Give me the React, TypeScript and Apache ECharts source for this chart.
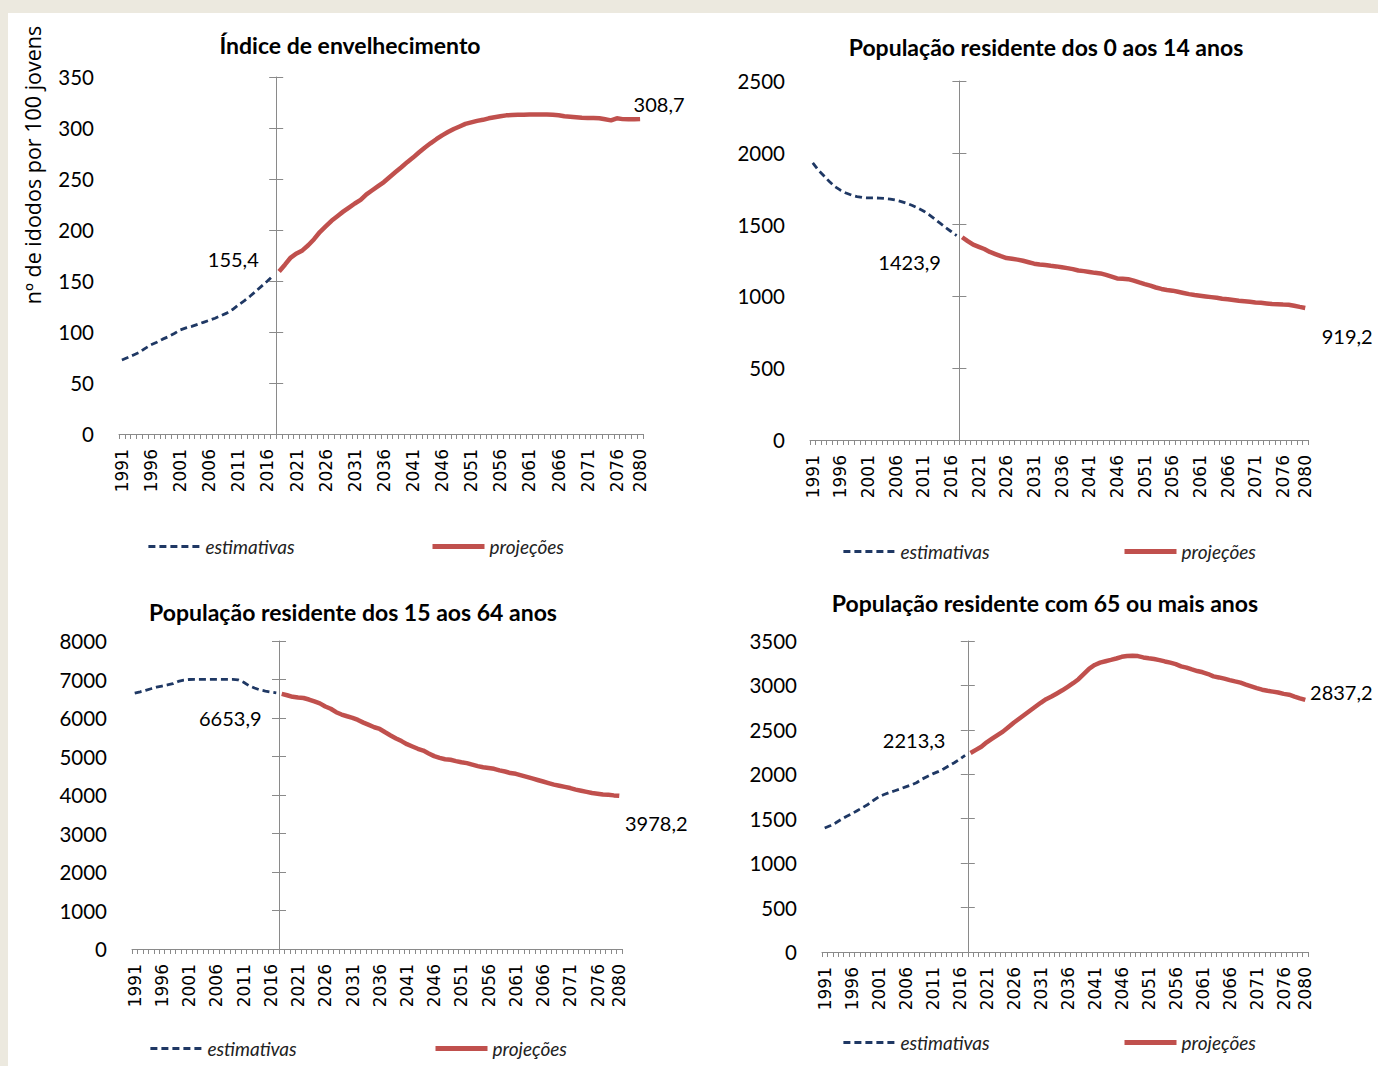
import React, { useEffect, useRef } from 'react';
import * as echarts from 'echarts';

// Years on the category axis (1991–2080) and the years that carry a tick label
const years: string[] = Array.from({ length: 90 }, (_, i) => String(1991 + i));
const yearLabels = [
  '1991', '1996', '2001', '2006', '2011', '2016', '2021', '2026', '2031', '2036',
  '2041', '2046', '2051', '2056', '2061', '2066', '2071', '2076', '2080',
];

// Índice de envelhecimento: estimates 1991–2017, projections 2018–2080
const envEst = [
  72.6, 75, 77.5, 80, 84, 87.5, 90, 93, 95.5, 98.5,
  102, 104, 105.5, 107.5, 109.5, 111.5, 113.5, 116, 118.5, 122,
  126.5, 130.5, 135, 140, 145, 150, 155.4,
];
const envProj = [
  159.3, 166, 173, 177, 180, 185, 191, 198, 203.5, 209,
  213.5, 218, 222, 226, 229.5, 235, 239, 243, 247, 252,
  256.8, 261.5, 266.5, 271, 276, 280.7, 285, 289, 292.8, 296,
  299, 301.5, 304, 305.5, 307, 308, 309.5, 310.5, 311.5, 312.4,
  312.7, 313, 313, 313.2, 313.2, 313.2, 313.2, 313, 312.5, 311.5,
  311, 310.5, 310, 309.8, 309.8, 309.5, 308.5, 307.5, 309.5, 308.7,
  308.5, 308.5, 308.7,
];

// População residente dos 0 aos 14 anos (milhares)
const jovEst = [
  1930, 1880, 1840, 1800, 1765, 1740, 1720, 1705, 1695, 1688,
  1686, 1686, 1685, 1682, 1678, 1670, 1660, 1648, 1633, 1615,
  1595, 1570, 1540, 1510, 1480, 1452, 1423.9,
];
const jovProj = [
  1412, 1385, 1360, 1345, 1330, 1310, 1295, 1280, 1267, 1262,
  1256, 1248, 1238, 1228, 1222, 1218, 1213, 1209, 1203, 1197,
  1190, 1180, 1176, 1170, 1164, 1160, 1150, 1138, 1125, 1123,
  1120, 1110, 1098, 1086, 1075, 1062, 1052, 1045, 1040, 1032,
  1024, 1016, 1010, 1005, 1000, 995, 990, 984, 980, 975,
  970, 966, 962, 958, 955, 951, 947, 945, 943, 942,
  935, 927, 919.2,
];

// População residente dos 15 aos 64 anos (milhares)
const ativEst = [
  6648, 6680, 6720, 6760, 6800, 6830, 6860, 6890, 6950, 6985,
  7000, 7005, 7005, 7005, 7005, 7005, 7005, 7005, 7005, 6990,
  6930, 6840, 6780, 6730, 6700, 6675, 6653.9,
];
const ativProj = [
  6625, 6590, 6550, 6530, 6520, 6480, 6430, 6380, 6300, 6240,
  6150, 6090, 6045, 6005, 5950, 5880, 5820, 5760, 5715, 5630,
  5547, 5470, 5400, 5320, 5260, 5200, 5155, 5080, 5010, 4965,
  4930, 4914, 4880, 4850, 4828, 4790, 4750, 4720, 4700, 4680,
  4640, 4610, 4570, 4550, 4510, 4470, 4430, 4390, 4350, 4310,
  4270, 4240, 4210, 4180, 4140, 4110, 4080, 4050, 4035, 4013,
  4005, 3990, 3978.2,
];

// População residente com 65 ou mais anos (milhares)
const idEst = [
  1395, 1420, 1452, 1490, 1525, 1555, 1590, 1625, 1660, 1705,
  1745, 1772, 1795, 1815, 1835, 1858, 1880, 1905, 1945, 1975,
  2005, 2030, 2060, 2095, 2130, 2170, 2213.3,
];
const idProj = [
  2240, 2275, 2310, 2360, 2400, 2440, 2480, 2530, 2580, 2625,
  2670, 2715, 2760, 2805, 2845, 2875, 2910, 2945, 2985, 3025,
  3070, 3130, 3190, 3230, 3256, 3272, 3287, 3303, 3322, 3332,
  3335, 3330, 3315, 3305, 3297, 3285, 3270, 3256, 3240, 3215,
  3200, 3180, 3162, 3148, 3128, 3102, 3090, 3076, 3060, 3045,
  3031, 3010, 2990, 2970, 2952, 2940, 2930, 2920, 2905, 2896,
  2875, 2855, 2837.2,
];

const titles = [
  'Índice de envelhecimento',
  'População residente dos 0 aos 14 anos',
  'População residente dos 15 aos 64 anos',
  'População residente com 65 ou mais anos',
];
const estimates = [envEst, jovEst, ativEst, idEst];
const projections = [envProj, jovProj, ativProj, idProj];
const yMax = [350, 2500, 8000, 3500];
const yStep = [50, 500, 1000, 500];
const seriesNames = ['estimativas', 'projeções'];
const yAxisName = 'nº de idodos por 100 jovens';

const BLUE = '#1F3864';
const RED = '#C0504D';
const AXIS = '#8A8A8A';
const TEXT = '#000000';

const estLine = { color: BLUE, width: 2.8, type: [7, 4] };
const projLine = { color: RED, width: 4.5 };

// Placement of each of the four small charts
const layout = [
  { left: 119, top: 77, width: 524, height: 357, titleX: 350, titleY: 33, legendY: 537, leg1: 147, leg2: 430, offStart: [-40, -16], offEnd: [19, -15] },
  { left: 810, top: 81, width: 498, height: 359, titleX: 1046, titleY: 35, legendY: 542, leg1: 842, leg2: 1122, offStart: [-47, 26], offEnd: [42, 28] },
  { left: 132, top: 641, width: 490, height: 308, titleX: 353, titleY: 600, legendY: 1039, leg1: 149, leg2: 433, offStart: [-46, 25], offEnd: [37, 27] },
  { left: 822, top: 641, width: 486, height: 311, titleX: 1045, titleY: 591, legendY: 1033, leg1: 842, leg2: 1122, offStart: [-51, -15], offEnd: [36, -8] },
];

const fmt = (v: number) => v.toFixed(1).replace('.', ',');

function buildOption() {
  const grid: any[] = [];
  const xAxis: any[] = [];
  const yAxis: any[] = [];
  const series: any[] = [];
  const title: any[] = [];
  const legend: any[] = [];

  const legendCommon = {
    orient: 'horizontal',
    itemWidth: 52,
    itemHeight: 12,
    padding: 0,
    selectedMode: false,
    itemStyle: { opacity: 0, borderWidth: 0 },
    textStyle: { fontFamily: 'Lato', fontStyle: 'italic', fontSize: 19, color: '#222' },
  };

  estimates.forEach((est, i) => {
    const proj = projections[i];
    const L = layout[i];

    grid.push({ left: L.left, top: L.top, width: L.width, height: L.height, containLabel: false });

    title.push({
      text: titles[i],
      left: L.titleX,
      top: L.titleY,
      textAlign: 'center',
      padding: 0,
      textStyle: { fontFamily: 'Lato', fontWeight: 'bold', fontSize: 23, color: TEXT },
    });

    xAxis.push({
      type: 'category',
      gridIndex: i,
      data: years,
      boundaryGap: true,
      axisLine: { show: true, onZero: false, lineStyle: { color: AXIS, width: 1 } },
      axisTick: { show: true, interval: 0, length: 5, lineStyle: { color: AXIS } },
      axisLabel: {
        interval: (_idx: number, val: string) => yearLabels.includes(val),
        rotate: 90,
        margin: 15,
        fontFamily: 'DejaVu Sans',
        fontSize: 17,
        color: TEXT,
      },
      splitLine: { show: false },
    });

    const base = { type: 'value', gridIndex: i, min: 0, max: yMax[i], interval: yStep[i], splitLine: { show: false } };
    // value labels on the left edge
    yAxis.push({
      ...base,
      position: 'left',
      axisLine: { show: false },
      axisTick: { show: false },
      axisLabel: { margin: 25, fontFamily: 'Lato', fontSize: 20.5, color: TEXT, formatter: (v: number) => String(v) },
    });
    // vertical axis crossing between 2017 and 2018, ticks on both sides
    const crossOffset = -(L.width * 27) / 90;
    yAxis.push({
      ...base,
      position: 'left',
      offset: crossOffset,
      axisLine: { show: true, onZero: false, lineStyle: { color: AXIS, width: 1 } },
      axisTick: { show: true, inside: false, length: 7, lineStyle: { color: AXIS } },
      axisLabel: { show: false },
    });
    yAxis.push({
      ...base,
      position: 'left',
      offset: crossOffset,
      axisLine: { show: false },
      axisTick: { show: true, inside: true, length: 7, lineStyle: { color: AXIS } },
      axisLabel: { show: false },
    });

    const estData = est.concat(proj.map(() => null as any));
    const projData = est.map(() => null as any).concat(proj);
    const lastEst = est.length - 1;
    const lastProj = years.length - 1;

    const markLabel = {
      show: true,
      position: 'inside',
      fontFamily: 'Lato',
      fontSize: 20,
      color: TEXT,
      formatter: (p: any) => fmt(p.value),
    };

    series.push({
      name: seriesNames[0],
      type: 'line',
      xAxisIndex: i,
      yAxisIndex: i * 3,
      data: estData,
      symbol: 'none',
      color: BLUE,
      lineStyle: estLine,
      emphasis: { disabled: true },
      z: 5,
      markPoint: {
        symbol: 'circle',
        symbolSize: 1,
        silent: true,
        itemStyle: { color: 'rgba(0,0,0,0)' },
        label: markLabel,
        data: [{ coord: [years[lastEst], est[lastEst]], value: est[lastEst], label: { offset: L.offStart } }],
      },
    });
    series.push({
      name: seriesNames[1],
      type: 'line',
      xAxisIndex: i,
      yAxisIndex: i * 3,
      data: projData,
      symbol: 'none',
      color: RED,
      lineStyle: projLine,
      emphasis: { disabled: true },
      z: 5,
      markPoint: {
        symbol: 'circle',
        symbolSize: 1,
        silent: true,
        itemStyle: { color: 'rgba(0,0,0,0)' },
        label: markLabel,
        data: [{ coord: [years[lastProj], proj[proj.length - 1]], value: proj[proj.length - 1], label: { offset: L.offEnd } }],
      },
    });

    legend.push({ ...legendCommon, data: [seriesNames[0]], left: L.leg1, top: L.legendY, lineStyle: { ...estLine } });
    legend.push({ ...legendCommon, data: [seriesNames[1]], left: L.leg2, top: L.legendY, lineStyle: { ...projLine, width: 5 } });
  });

  return {
    animation: false,
    backgroundColor: 'transparent',
    title,
    legend,
    grid,
    xAxis,
    yAxis,
    series,
    graphic: [
      {
        type: 'text',
        x: 32,
        y: 165,
        rotation: Math.PI / 2,
        style: {
          text: yAxisName,
          fontFamily: 'Open Sans',
          fontSize: 21.5,
          fill: TEXT,
          align: 'center',
          verticalAlign: 'middle',
        },
      },
    ],
  };
}

export default function App() {
  const ref = useRef<HTMLDivElement>(null);
  useEffect(() => {
    if (!ref.current) return;
    const chart = echarts.init(ref.current, undefined, { renderer: 'svg' });
    chart.setOption(buildOption() as any);
    return () => chart.dispose();
  }, []);
  return (
    <div style={{ position: 'absolute', left: 0, top: 0, width: 1378, height: 1066, background: '#ECE9DF', overflow: 'hidden' }}>
      <div style={{ position: 'absolute', left: 8, top: 13, right: 0, bottom: 0, background: '#FFFFFF' }} />
      <div ref={ref} style={{ position: 'absolute', left: 0, top: 0, width: 1378, height: 1066 }} />
    </div>
  );
}
